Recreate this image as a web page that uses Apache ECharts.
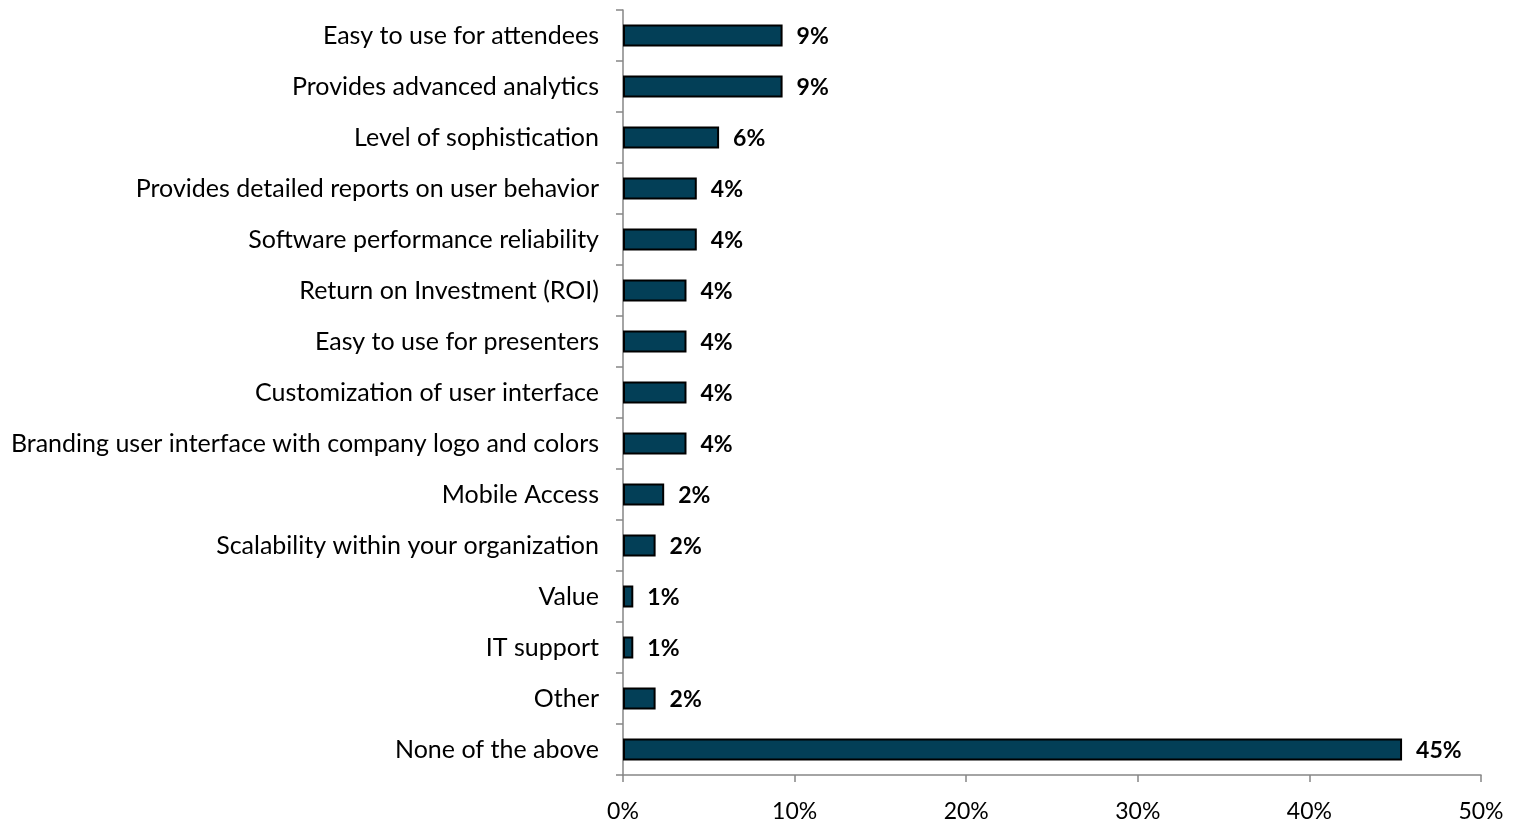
<!DOCTYPE html>
<html>
<head>
<meta charset="utf-8">
<script src="https://cdn.jsdelivr.net/npm/echarts@6/dist/echarts.min.js"></script>
<style>
  html, body { margin: 0; padding: 0; background: #fff; }
  #chart { width: 1514px; height: 823px; }
</style>
</head>
<body>
<div id="chart"></div>
<script>
// Reasons for choosing the platform, top to bottom
const categories = [
  'Easy to use for attendees',
  'Provides advanced analytics',
  'Level of sophistication',
  'Provides detailed reports on user behavior',
  'Software performance reliability',
  'Return on Investment (ROI)',
  'Easy to use for presenters',
  'Customization of user interface',
  'Branding user interface with company logo and colors',
  'Mobile Access',
  'Scalability within your organization',
  'Value',
  'IT support',
  'Other',
  'None of the above'
];
// Share of respondents, percent
const shares = [9.3, 9.3, 5.6, 4.3, 4.3, 3.7, 3.7, 3.7, 3.7, 2.4, 1.9, 0.6, 0.6, 1.9, 45.4];
const xTicks = [0, 10, 20, 30, 40, 50];

const font = 'Lato, "Open Sans", sans-serif';
const chart = echarts.init(document.getElementById('chart'));
chart.setOption({
  animation: false,
  grid: { left: 623, right: 33, top: 10, bottom: 45, containLabel: false },
  xAxis: {
    type: 'value',
    min: xTicks[0],
    max: xTicks[xTicks.length - 1],
    interval: 10,
    axisLine: { show: true, lineStyle: { color: '#868686', width: 1.5 } },
    axisTick: { show: true, length: 7, lineStyle: { color: '#868686', width: 1.5 } },
    splitLine: { show: false },
    axisLabel: {
      formatter: v => v + '%',
      color: '#000',
      fontSize: 23,
      fontFamily: font,
      margin: 25
    }
  },
  yAxis: {
    type: 'category',
    inverse: true,
    data: categories,
    axisLine: { show: true, lineStyle: { color: '#868686', width: 1.5 } },
    axisTick: { show: true, length: 7, alignWithLabel: false, lineStyle: { color: '#868686', width: 1.5 } },
    axisLabel: {
      color: '#000',
      fontSize: 25,
      fontFamily: font,
      margin: 24
    }
  },
  series: [{
    type: 'bar',
    data: shares,
    barWidth: 22,
    itemStyle: { color: '#033f57', borderColor: '#000', borderWidth: 2 },
    label: {
      show: true,
      position: 'right',
      distance: 14,
      offset: [0, 1],
      formatter: p => Math.round(p.value) + '%',
      color: '#000',
      fontSize: 23,
      fontWeight: 'bold',
      fontFamily: font
    }
  }]
});
</script>
</body>
</html>
